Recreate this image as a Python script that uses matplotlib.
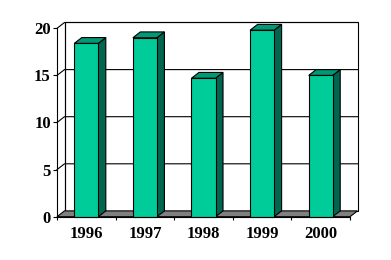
import matplotlib
matplotlib.use("Agg")
import matplotlib.pyplot as plt
from matplotlib.patches import Polygon, Rectangle
import numpy as np

# chart data
years = ['1996', '1997', '1998', '1999', '2000']
values = [18.4, 19.0, 14.7, 19.8, 15.0]
yticks = [0, 5, 10, 15, 20]

FRONT = '#00cc99'
SIDE = '#006650'
TOP = '#009977'
FLOOR = '#808080'

fig = plt.figure(figsize=(3.91, 2.60), dpi=100)
W, H = 391, 260
# front plane of the pseudo-3d box, in pixels
x0, x1 = 57, 350
yb, yt = 216.7, 28.3
ax = fig.add_axes([x0 / W, (H - yb) / H, (x1 - x0) / W, (yb - yt) / H])
ax.set_xlim(0, len(years))
ax.set_ylim(0, 20)

# depth offset converted to data units
px_x = (x1 - x0) / len(years)
px_y = (yb - yt) / 20
DX = 7.5 / px_x
DY = 5.8 / px_y
lw = 0.8
n = len(years)
ymax = yticks[-1]

# back wall and floor
ax.add_patch(Rectangle((DX, DY), n, ymax, facecolor='white', edgecolor='black',
                       lw=lw, clip_on=False, zorder=1))
ax.add_patch(Polygon([(0, 0), (n, 0), (n + DX, DY), (DX, DY)], closed=True,
                     facecolor=FLOOR, edgecolor='black', lw=lw, clip_on=False, zorder=2))
# left wall edges + gridlines
ax.plot([DX, DX], [DY, ymax + DY], color='black', lw=lw, clip_on=False, zorder=1.5)
for yv in yticks[1:]:
    ax.plot([0, DX, n + DX], [yv, yv + DY, yv + DY], color='black', lw=lw,
            clip_on=False, zorder=1.5)

# bars
bw = 0.41
for i, v in enumerate(values):
    l = i + 0.5 - bw / 2
    r = i + 0.5 + bw / 2
    ax.add_patch(Polygon([(r, 0), (r + DX, DY), (r + DX, v + DY), (r, v)], closed=True,
                         facecolor=SIDE, edgecolor='black', lw=lw, clip_on=False, zorder=3))
    ax.add_patch(Polygon([(l, v), (r, v), (r + DX, v + DY), (l + DX, v + DY)], closed=True,
                         facecolor=TOP, edgecolor='black', lw=lw, clip_on=False, zorder=3))
    ax.add_patch(Rectangle((l, 0), bw, v, facecolor=FRONT, edgecolor='black',
                           lw=lw, clip_on=False, zorder=4))

for s in ['top', 'right']:
    ax.spines[s].set_visible(False)
for s in ['left', 'bottom']:
    ax.spines[s].set_linewidth(lw)
    ax.spines[s].set_zorder(5)

ax.set_xticks(np.arange(n) + 0.5)
ax.set_xticklabels(years)
ax.set_xticks(np.arange(n + 1), minor=True)
ax.tick_params(axis='x', which='major', length=0, pad=7)
ax.tick_params(axis='x', which='minor', length=2.5, width=lw, direction='out')
ax.set_yticks(yticks)
ax.tick_params(axis='y', length=3, width=lw, pad=1.5)
for lab in ax.get_xticklabels() + ax.get_yticklabels():
    lab.set_fontfamily('Liberation Serif')
    lab.set_fontweight('bold')
    lab.set_fontsize(12)

fig.savefig('out.png', dpi=100)
